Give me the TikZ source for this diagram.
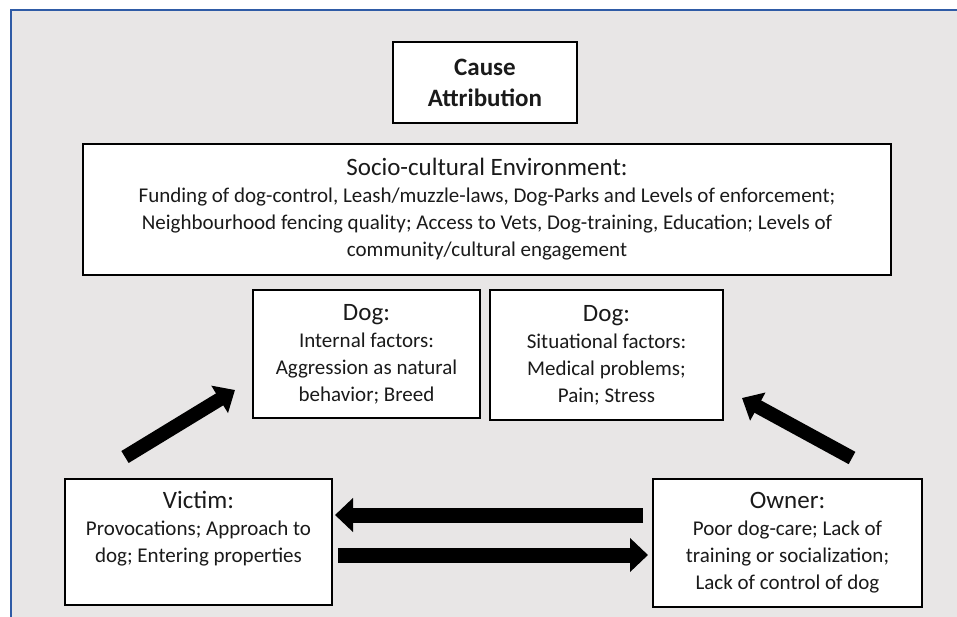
\documentclass[tikz,border=0pt]{standalone}
\usepackage{fontspec}
\setmainfont{Carlito}
\usetikzlibrary{arrows.meta}
\definecolor{bgcol}{HTML}{E8E6E6}
\definecolor{frameblue}{HTML}{2F5BA6}
\definecolor{txt}{HTML}{1A1A1A}
\tikzset{
  box/.style={draw=black, line width=1.6pt, fill=white, inner sep=0pt, align=center, text=txt,
              font=\fontsize{21}{27}\selectfont},
  bigarrow/.style={line width=15pt, black, -{Triangle[width=33pt,length=18pt]}},
  diagarrow/.style={line width=14pt, black, -{Triangle[width=31pt,length=18pt]}},
}
\newcommand{\hd}[1]{{\fontsize{25}{27}\selectfont #1}}
\begin{document}
\begin{tikzpicture}[x=1pt,y=-1pt]
\useasboundingbox (0,0) rectangle (957,617);
\fill[white] (0,0) rectangle (957,617);
\fill[bgcol] (11,10) rectangle (957,617);
\draw[frameblue, line width=2.5pt] (11,617) -- (11,10) -- (957,10);

\node[box, minimum width=184pt, minimum height=81pt, font=\fontsize{25}{31}\selectfont\bfseries] (cause) at (485,82.5) {Cause\\Attribution};

\node[box, minimum width=808pt, minimum height=131pt] (socio) at (487,209.5)
  {\hd{Socio-cultural Environment:}\\
   Funding of dog-control, Leash/muzzle-laws, Dog-Parks and Levels of enforcement;\\
   Neighbourhood fencing quality; Access to Vets, Dog-training, Education; Levels of\\
   community/cultural engagement};

\node[box, minimum width=227pt, minimum height=128pt] (dogint) at (366.5,354)
  {\hd{Dog:}\\Internal factors:\\Aggression as natural\\behavior; Breed};

\node[box, minimum width=233pt, minimum height=130pt] (dogsit) at (606.5,355)
  {\hd{Dog:}\\Situational factors:\\Medical problems;\\Pain; Stress};

\node[box, minimum width=267pt, minimum height=126pt] (victim) at (198.5,542)
  {\hd{Victim:}\\Provocations; Approach to\\dog; Entering properties\\[4pt]};

\node[box, minimum width=269pt, minimum height=128pt] (owner) at (787.5,543)
  {\hd{Owner:}\\Poor dog-care; Lack of\\training or socialization;\\Lack of control of dog};

\coordinate (vdS) at (125,457);
\coordinate (vdE) at (235,390);
\coordinate (odS) at (852,458);
\coordinate (odE) at (742,398);
\coordinate (ovS) at (643,515);
\coordinate (ovE) at (335,515);
\coordinate (voS) at (338,555);
\coordinate (voE) at (648,555);

\draw[diagarrow] (vdS) -- (vdE);
\draw[diagarrow] (odS) -- (odE);
\draw[bigarrow] (ovS) -- (ovE);
\draw[bigarrow] (voS) -- (voE);
\end{tikzpicture}
\end{document}
